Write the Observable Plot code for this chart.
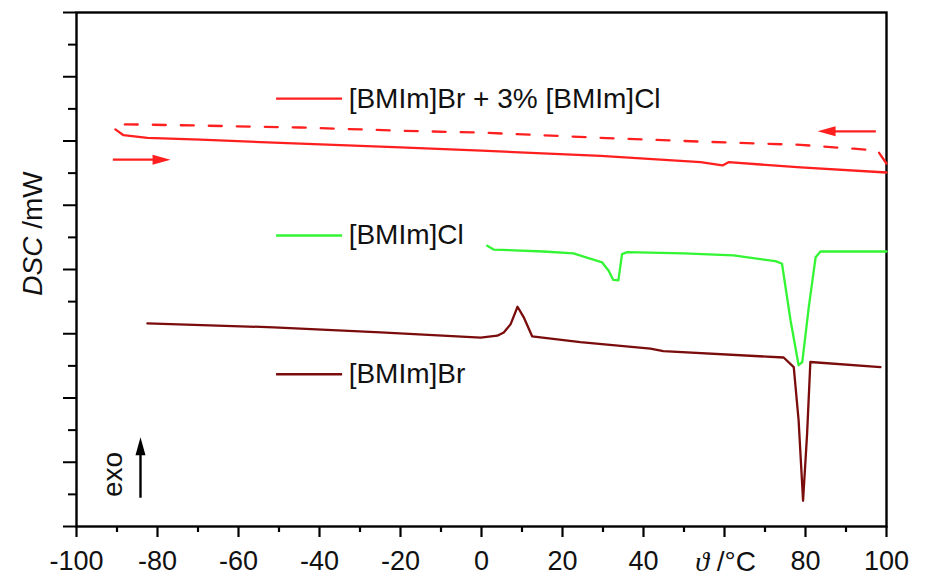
<!DOCTYPE html>
<html><head><meta charset="utf-8">
<script src="https://cdn.jsdelivr.net/npm/d3@7"></script>
<script src="https://cdn.jsdelivr.net/npm/@observablehq/plot@0.6"></script>
<style>
html,body{margin:0;padding:0;background:#fff;}
#chart svg{display:block;}
</style></head><body><div id="chart"></div>
<script>
// [BMIm]Br + 3% [BMIm]Cl, heating run (solid)
const mixHeatT   = [-90.4, -88.4, -82.5, -69.4, -44.7, -20, 0, 29.4, 54.1, 59.5, 61.0, 78.8, 100];
const mixHeatDSC = [6.18, 6.09, 6.05, 6.02, 5.96, 5.90, 5.85, 5.77, 5.67, 5.62, 5.67, 5.59, 5.51];
// [BMIm]Br + 3% [BMIm]Cl, cooling run (dashed)
const mixCoolT   = [100, 97.8, 91.9, 78.8, 54.1, 29.4, 0, -20, -44.7, -69.4, -87.9, -89.4];
const mixCoolDSC = [5.65, 5.85, 5.88, 5.94, 5.99, 6.05, 6.13, 6.16, 6.21, 6.24, 6.26, 6.23];
// [BMIm]Cl
const clT   = [1.4, 3.0, 15.3, 22.7, 29.8, 31.4, 32.5, 33.8, 34.7, 36.0, 49.9, 62.2, 72.6, 74.2, 76.3, 78.3, 79.2, 80.8, 82.5, 83.7, 100];
const clDSC = [4.37, 4.31, 4.28, 4.25, 4.11, 3.98, 3.84, 3.83, 4.24, 4.27, 4.25, 4.22, 4.13, 4.09, 3.21, 2.51, 2.56, 3.41, 4.19, 4.28, 4.28];
// [BMIm]Br
const brT   = [-82.5, -51.3, -24.9, -0.2, 3.9, 5.5, 7.2, 8.9, 10.4, 12.5, 24.4, 41.7, 44.9, 74.6, 77.1, 78.3, 79.4, 80.4, 81.2, 98.5];
const brDSC = [3.16, 3.10, 3.02, 2.94, 2.97, 3.02, 3.15, 3.42, 3.26, 2.96, 2.87, 2.77, 2.73, 2.63, 2.48, 1.65, 0.40, 1.45, 2.56, 2.48];

const xTicks = [-100, -80, -60, -40, -20, 0, 20, 40, 60, 80, 100];
const xTickLabels = ["-100", "-80", "-60", "-40", "-20", "0", "20", "40", "", "80", "100"];
const xMinorTicks = [-90, -70, -50, -30, -10, 10, 30, 50, 70, 90];
const yTicks = [0, 1, 2, 3, 4, 5, 6, 7, 8];
const yMinorTicks = [0.5, 1.5, 2.5, 3.5, 4.5, 5.5, 6.5, 7.5];

const seriesNames  = ["[BMIm]Br + 3% [BMIm]Cl", "[BMIm]Cl", "[BMIm]Br"];
const seriesColors = ["#ff1f1f", "#33f533", "#7a0c0c"];
const legendLevels = [6.66, 4.53, 2.37];

const toRows = (xs, ys) => xs.map((x, i) => ({x, y: ys[i]}));
const legend = seriesNames.map((name, i) => ({name, color: seriesColors[i], y: legendLevels[i]}));

const headRight = {draw(ctx){ ctx.moveTo(9, 0); ctx.lineTo(-9, -5); ctx.lineTo(-9, 5); ctx.closePath(); }};
const headLeft  = {draw(ctx){ ctx.moveTo(-9, 0); ctx.lineTo(9, -5); ctx.lineTo(9, 5); ctx.closePath(); }};
const headUp    = {draw(ctx){ ctx.moveTo(0, -9); ctx.lineTo(-5, 9); ctx.lineTo(5, 9); ctx.closePath(); }};

const fontTicks = 27;
const chart = Plot.plot({
  width: 926,
  height: 579,
  marginLeft: 76,
  marginRight: 40,
  marginTop: 12,
  marginBottom: 53,
  style: {fontFamily: "'Liberation Sans', Arial, sans-serif", fontSize: "27px", color: "#111", background: "#fff"},
  x: {domain: [-100, 100]},
  y: {domain: [0, 8]},
  marks: [
    Plot.axisY({ticks: yTicks, tickSize: 13, tickFormat: () => "", strokeWidth: 2, stroke: "#000", label: null}),
    Plot.axisY({ticks: yMinorTicks, tickSize: 8, tickFormat: () => "", strokeWidth: 2, stroke: "#000", label: null}),
    Plot.axisX({ticks: xTicks, tickSize: 11, tickPadding: 13, strokeWidth: 2.2, stroke: "#000", fill: "#111", fontSize: fontTicks, label: null,
                tickFormat: d => xTickLabels[xTicks.indexOf(d)]}),
    Plot.axisX({ticks: xMinorTicks, tickSize: 6, tickFormat: () => "", strokeWidth: 2.2, stroke: "#000", label: null}),
    Plot.frame({stroke: "#000", strokeWidth: 2.4}),

    // curves
    Plot.line(toRows(brT, brDSC), {x: "x", y: "y", stroke: seriesColors[2], strokeWidth: 2.3}),
    Plot.line(toRows(clT, clDSC), {x: "x", y: "y", stroke: seriesColors[1], strokeWidth: 2.3}),
    Plot.line(toRows(mixHeatT, mixHeatDSC), {x: "x", y: "y", stroke: seriesColors[0], strokeWidth: 2.3}),
    Plot.line(toRows(mixCoolT, mixCoolDSC), {x: "x", y: "y", stroke: seriesColors[0], strokeWidth: 2.3, strokeDasharray: "13,15"}),

    // legend
    Plot.ruleY(legend, {y: "y", x1: -50.6, x2: -34.3, stroke: "color", strokeWidth: 2.4}),
    Plot.text(legend, {y: "y", x: -32.8, text: "name", textAnchor: "start", fontSize: 28, fill: "#111"}),

    // heating / cooling direction arrows
    Plot.ruleY([5.71], {x1: -90.9, x2: -81, stroke: seriesColors[0], strokeWidth: 2.4}),
    Plot.dot([{x: -79, y: 5.71}], {x: "x", y: "y", symbol: headRight, fill: seriesColors[0], stroke: "none"}),
    Plot.ruleY([6.15], {x1: 97.5, x2: 87.3, stroke: seriesColors[0], strokeWidth: 2.4}),
    Plot.dot([{x: 85.2, y: 6.15}], {x: "x", y: "y", symbol: headLeft, fill: seriesColors[0], stroke: "none"}),

    // exo arrow
    Plot.ruleX([-84.2], {y1: 0.44, y2: 1.12, stroke: "#000", strokeWidth: 2.4}),
    Plot.dot([{x: -84.2, y: 1.25}], {x: "x", y: "y", symbol: headUp, fill: "#000", stroke: "none"}),
    Plot.text(["exo"], {x: -91.1, y: 0.81, rotate: -90, fontSize: 28, fill: "#111"}),

    // axis titles
    Plot.text(["DSC /mW"], {frameAnchor: "left", dx: -43, dy: -36, rotate: -90, textAnchor: "middle", fontSize: 28, fill: "#111"}),
    Plot.text(["ϑ /°C"], {frameAnchor: "bottom-left", dx: 649, dy: 44, fontSize: 28, fill: "#111", textAnchor: "middle"})
  ]
});
document.getElementById("chart").appendChild(chart);

// mixed styling inside the axis titles (italic symbol, upright unit)
d3.select(chart).selectAll("text").each(function() {
  const t = d3.select(this);
  const s = t.text();
  if (s === "DSC /mW") {
    t.text(null);
    t.append("tspan").attr("font-style", "italic").text("DSC");
    t.append("tspan").text(" /mW");
  } else if (s === "ϑ /°C") {
    t.text(null);
    t.append("tspan").attr("font-style", "italic").attr("font-family", "'Liberation Serif', 'DejaVu Serif', serif").text("ϑ");
    t.append("tspan").text(" /°C");
  }
});
</script>
</body></html>
